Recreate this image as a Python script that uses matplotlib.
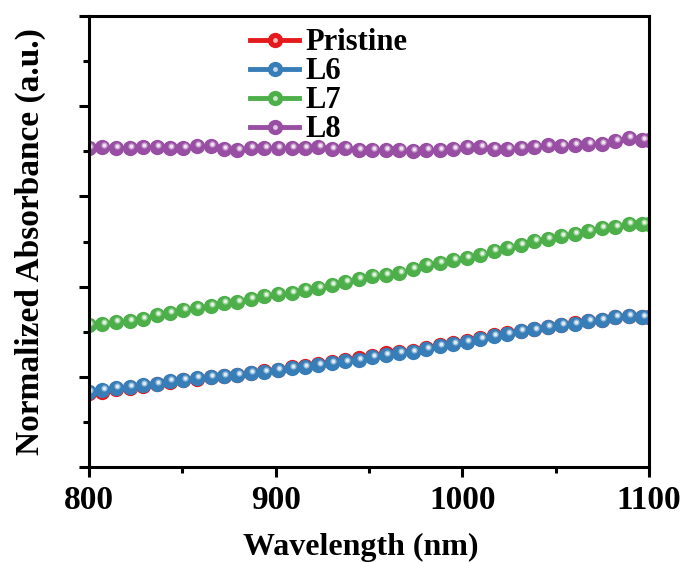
"""Normalized absorbance vs wavelength (Pristine, L6, L7, L8)."""
import matplotlib
matplotlib.use("Agg")
import matplotlib.pyplot as plt
import matplotlib.transforms as mtransforms
from matplotlib.colors import to_rgb
from matplotlib.ticker import MultipleLocator, NullFormatter

plt.rcParams.update({
    "font.family": "Liberation Serif",
    "font.weight": "bold",
    "axes.linewidth": 2.2,
})

wavelength = [800.0, 807.2, 814.5, 821.7, 828.9, 836.2, 843.4, 850.6, 857.8,
              865.1, 872.3, 879.5, 886.8, 894.0, 901.2, 908.5, 915.7, 922.9,
              930.1, 937.4, 944.6, 951.8, 959.1, 966.3, 973.5, 980.8, 988.0,
              995.2, 1002.4, 1009.7, 1016.9, 1024.1, 1031.4, 1038.6, 1045.8,
              1053.1, 1060.3, 1067.5, 1074.7, 1082.0, 1089.2, 1096.4, 1100.0]

l6 = [0.167, 0.170, 0.175, 0.178, 0.182, 0.185, 0.190, 0.194, 0.197, 0.200,
      0.202, 0.205, 0.208, 0.211, 0.215, 0.219, 0.222, 0.227, 0.230, 0.234,
      0.238, 0.243, 0.249, 0.252, 0.255, 0.261, 0.268, 0.273, 0.277, 0.283,
      0.291, 0.296, 0.301, 0.305, 0.310, 0.314, 0.318, 0.323, 0.326, 0.332,
      0.335, 0.333, 0.333]

pristine = [0.164, 0.167, 0.172, 0.175, 0.179, 0.183, 0.188, 0.192, 0.196,
            0.199, 0.202, 0.205, 0.209, 0.212, 0.216, 0.221, 0.224, 0.229,
            0.232, 0.237, 0.241, 0.246, 0.252, 0.255, 0.258, 0.264, 0.270,
            0.275, 0.279, 0.285, 0.293, 0.297, 0.302, 0.306, 0.311, 0.315,
            0.319, 0.324, 0.327, 0.332, 0.335, 0.333, 0.333]

l7 = [0.315, 0.317, 0.321, 0.324, 0.329, 0.338, 0.342, 0.348, 0.353, 0.357,
      0.363, 0.367, 0.373, 0.380, 0.383, 0.386, 0.393, 0.398, 0.404, 0.410,
      0.417, 0.423, 0.426, 0.430, 0.439, 0.447, 0.453, 0.460, 0.464, 0.470,
      0.478, 0.486, 0.493, 0.501, 0.505, 0.513, 0.517, 0.524, 0.530, 0.533,
      0.538, 0.538, 0.538]

l8 = [0.707, 0.710, 0.707, 0.708, 0.710, 0.710, 0.708, 0.707, 0.711, 0.711,
      0.705, 0.704, 0.707, 0.708, 0.708, 0.707, 0.708, 0.710, 0.705, 0.707,
      0.702, 0.702, 0.704, 0.704, 0.701, 0.704, 0.704, 0.706, 0.710, 0.709,
      0.705, 0.705, 0.707, 0.710, 0.713, 0.711, 0.714, 0.716, 0.717, 0.722,
      0.729, 0.726, 0.726]

series = [
    ("Pristine", pristine, "#E41A1C"),
    ("L6", l6, "#377EB8"),
    ("L7", l7, "#4DAF4A"),
    ("L8", l8, "#984EA3"),
]


def tint(col, f):
    r, g, b = to_rgb(col)
    return (r + (1 - r) * f, g + (1 - g) * f, b + (1 - b) * f)


fig = plt.figure(figsize=(6.83, 5.62), dpi=100)
ax = fig.add_axes([0.1303, 0.1690, 0.8199, 0.8025])

# glossy highlight on each ball marker, nudged up-right
hl_trans = mtransforms.offset_copy(ax.transData, fig=fig, x=1.0, y=1.4,
                                   units="points")

handles = []
for name, vals, col in series:
    line, = ax.plot(wavelength, vals, "-o", color=col, linewidth=2.0,
                    markersize=11, markeredgewidth=0, label=name)
    ax.plot(wavelength, vals, "o", color=tint(col, 0.45),
            markersize=4.5, markeredgewidth=0, transform=hl_trans)
    ax.plot(wavelength, vals, "o", color=tint(col, 0.85),
            markersize=2.6, markeredgewidth=0, transform=hl_trans)
    hl, = ax.plot([], [], "o", color=tint(col, 0.7), markersize=3.5,
                  markeredgewidth=0)
    handles.append((line, hl))

ax.set_xlim(800, 1100)
ax.set_ylim(0, 1)
ax.xaxis.set_major_locator(MultipleLocator(100))
ax.xaxis.set_minor_locator(MultipleLocator(50))
ax.yaxis.set_major_locator(MultipleLocator(0.2))
ax.yaxis.set_minor_locator(MultipleLocator(0.1))
ax.yaxis.set_major_formatter(NullFormatter())
ax.tick_params(which="major", direction="out", length=7, width=2.2,
               labelsize=24, pad=6)
ax.tick_params(which="minor", direction="out", length=4, width=2.2)
ax.tick_params(top=False, right=False, which="both")
for lab in ax.get_xticklabels():
    lab.set_fontweight("bold")

ax.set_xlabel("Wavelength (nm)", fontsize=23, fontweight="bold",
              labelpad=13)
ax.xaxis.set_label_coords(0.485, -0.145)
ax.set_ylabel("Normalized Absorbance (a.u.)", fontsize=24,
              fontweight="bold", labelpad=18)

leg = ax.legend(handles, [s[0] for s in series], loc="upper left",
                bbox_to_anchor=(0.25, 1.02), frameon=False,
                handlelength=1.6, handletextpad=0.2, labelspacing=0.0,
                borderpad=0.2, numpoints=1,
                prop={"weight": "bold", "size": 22})
for ln in leg.get_lines():
    if ln.get_linestyle() != "None":
        ln.set_linewidth(3.5)

fig.savefig("out.png", dpi=100)
